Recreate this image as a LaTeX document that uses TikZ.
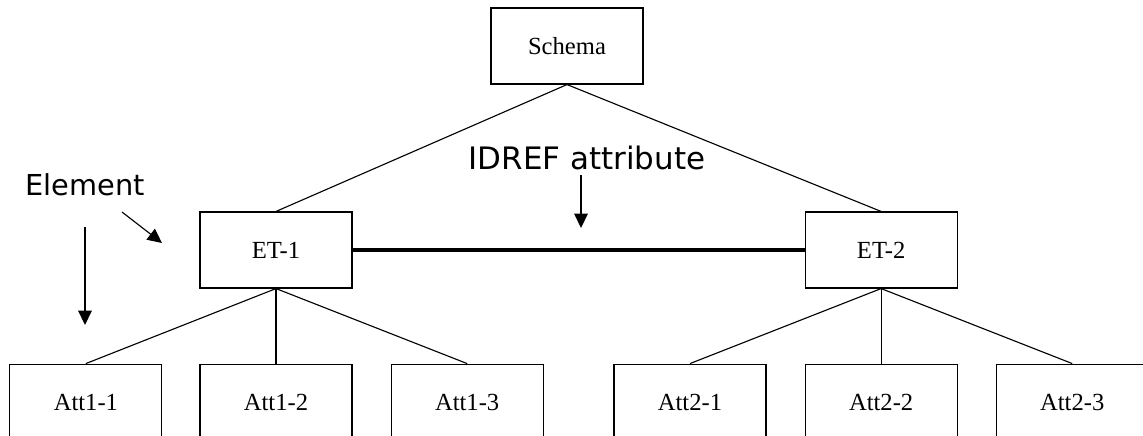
\documentclass[tikz,border=0pt]{standalone}
\usepackage{fontspec}
\setmainfont{Liberation Serif}
\newfontfamily\notefont{DejaVu Sans}
\usetikzlibrary{arrows.meta,positioning}

\begin{document}
\begin{tikzpicture}[
        node distance=1.875cm and 0.95cm,
        entity/.style={draw, line width=0.8pt, minimum width=3.8cm, minimum height=1.9cm, inner sep=0pt, font=\fontsize{17.5}{20}\selectfont},
        branch/.style={line width=0.8pt},
        idref/.style={line width=2.6pt},
        note/.style={inner sep=0pt, font=\notefont\fontsize{22}{25}\selectfont},
        pointer/.style={-{Triangle[length=3.6mm,width=3.4mm]}, line width=0.8pt}
    ]
        \useasboundingbox (0,0) rectangle (28.575,-10.875);

        \node[entity] (schema) at (14.175,-1.15) {Schema};
        \node[entity] (et1) at (6.9,-6.25) {ET-1};
        \node[entity, right=11.3cm of et1] (et2) {ET-2};

        \node[entity, below=of et1] (a12) {Att1-2};
        \node[entity, left=0.925cm of a12] (a11) {Att1-1};
        \node[entity, right=of a12] (a13) {Att1-3};
        \node[entity, below=of et2] (a22) {Att2-2};
        \node[entity, left=of a22] (a21) {Att2-1};
        \node[entity, right=of a22] (a23) {Att2-3};

        % labels
        \node[note, anchor=base west, font=\notefont\fontsize{20.5}{24}\selectfont] (elem) at (0.625,-4.875) {Element};
        \node[note, anchor=base] (attr) at (14.675,-4.225) {IDREF attribute};

        \coordinate (e1) at (2.125,-5.675);
        \coordinate (e2) at (2.125,-8.125);
        \coordinate (e3) at (3.05,-5.3);
        \coordinate (e4) at (4.05,-6.075);
        \coordinate (r1) at (14.525,-4.375);
        \coordinate (r2) at (14.525,-5.7);

        \draw[branch] (schema.south) -- (et1.north);
        \draw[branch] (schema.south) -- (et2.north);
        \foreach \a in {a11,a12,a13}
            \draw[branch] (et1.south) -- (\a.north);
        \foreach \a in {a21,a22,a23}
            \draw[branch] (et2.south) -- (\a.north);
        \draw[idref] (et1) -- (et2);

        \draw[pointer] (e1) -- (e2);
        \draw[pointer] (e3) -- (e4);
        \draw[pointer] (r1) -- (r2);
    \end{tikzpicture}
\end{document}
